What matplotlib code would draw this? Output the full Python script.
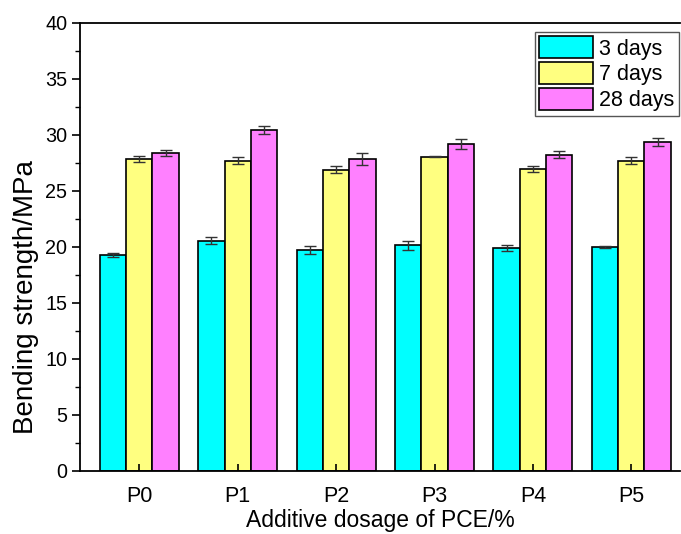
import matplotlib
matplotlib.use('Agg')
import matplotlib.pyplot as plt
import numpy as np

plt.rcParams['font.family'] = ['Liberation Sans', 'DejaVu Sans']

# data
groups = ['P0', 'P1', 'P2', 'P3', 'P4', 'P5']
series = ['3 days', '7 days', '28 days']
day3 = [19.3, 20.55, 19.75, 20.15, 19.9, 20.0]
day7 = [27.85, 27.7, 26.9, 28.05, 26.95, 27.7]
day28 = [28.4, 30.45, 27.85, 29.2, 28.25, 29.35]
err3 = [0.2, 0.3, 0.35, 0.4, 0.3, 0.05]
err7 = [0.3, 0.3, 0.3, 0.05, 0.25, 0.3]
err28 = [0.3, 0.35, 0.5, 0.43, 0.3, 0.37]

colors = ['#00FFFF', '#FFFF80', '#FF80FF']

W, H = 681, 534
fig = plt.figure(figsize=(W / 100, H / 100), dpi=100)
ax = fig.add_axes([80 / W, (H - 471) / H, 600 / W, 448 / H])

x = np.arange(len(groups))
width = 0.267
for i, (vals, errs, lab) in enumerate(zip([day3, day7, day28],
                                          [err3, err7, err28], series)):
    ax.bar(x + (i - 1) * width, vals, width, yerr=errs, color=colors[i],
           edgecolor='black', linewidth=1.2, label=lab,
           error_kw=dict(ecolor='#333333', elinewidth=1.0, capsize=4,
                         capthick=1.0))

ax.set_xlim(-0.603, 5.495)
ax.set_ylim(0, 40)
ax.set_yticks(np.arange(0, 41, 5))
ax.set_yticks(np.arange(0, 40, 2.5), minor=True)
ax.set_xticks(x)
ax.set_xticklabels(groups)
ax.tick_params(axis='y', direction='out', length=6, width=1.2,
               labelsize=14.2, pad=3)
ax.tick_params(axis='y', which='minor', direction='out', length=3.5,
               width=1.0)
ax.tick_params(axis='x', direction='in', length=5, width=1.2,
               labelsize=15.5, pad=11)
ax.spines['right'].set_visible(False)
for s in ['left', 'bottom', 'top']:
    ax.spines[s].set_linewidth(1.3)

ax.set_xlabel('Additive dosage of PCE/%', fontsize=16.5, labelpad=1)
ax.set_ylabel('Bending strength/MPa', fontsize=20)
# the label sits below the middle of the axis in the reference
ax.yaxis.set_label_coords(-0.068, 0.388)

leg = ax.legend(loc='upper right', bbox_to_anchor=(679 / W, 1 - 32 / H),
                bbox_transform=fig.transFigure, borderaxespad=0,
                fontsize=15.5, handlelength=2.5, handleheight=1.2,
                labelspacing=0.12, handletextpad=0.3, borderpad=0.2,
                fancybox=False, framealpha=1)
leg.get_frame().set_edgecolor('#555555')
leg.get_frame().set_linewidth(1.0)

fig.savefig('out.png', dpi=100)
